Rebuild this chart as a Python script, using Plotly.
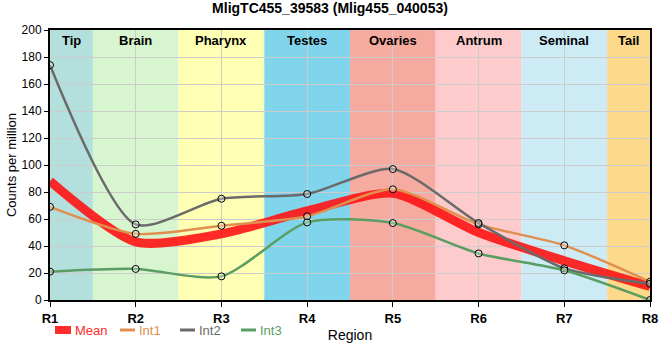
import plotly.graph_objects as go

regions = ["R1", "R2", "R3", "R4", "R5", "R6", "R7", "R8"]
tissues = ["Tip", "Brain", "Pharynx", "Testes", "Ovaries", "Antrum", "Seminal", "Tail"]
tissue_colors = ["#b3e0dc", "#d7f5cf", "#ffffb3", "#80d5ec", "#f5ab9f", "#fdcbcb", "#cdebf5", "#fdd98b"]

mean_vals = [88, 43, 49, 66, 79, 50, 29, 10]
int1_vals = [69, 49, 55, 62, 82, 56, 40.5, 13.5]
int2_vals = [174, 56, 75, 78.5, 97, 57, 23.5, 12]
int3_vals = [21, 23, 17.5, 57.5, 57, 34.5, 22, 0]

series_names = ["Mean", "Int1", "Int2", "Int3"]
series_colors = ["#ff2a2a", "#e08f4f", "#6a6a6a", "#5a9e63"]

xs = list(range(len(regions)))
FONT = "Liberation Sans, Arial, sans-serif"
SMOOTH = 0.7

FW, FH = 660, 360
L, R, T, B = 50, 10, 30, 60
W, H = FW - L - R, FH - T - B

fig = go.Figure()

# tissue bands
bounds = [0] + [i + 0.5 for i in range(len(regions) - 1)] + [len(regions) - 1]
for i, (t, c) in enumerate(zip(tissues, tissue_colors)):
    fig.add_shape(type="rect", xref="x", yref="paper", x0=bounds[i], x1=bounds[i + 1],
                  y0=0, y1=1, fillcolor=c, line_width=0, layer="below")
    fig.add_annotation(x=(bounds[i] + bounds[i + 1]) / 2, y=1, xref="x", yref="paper",
                       text="<b>%s</b>" % t, showarrow=False, yanchor="top", yshift=-1,
                       font=dict(family=FONT, size=13, color="black"))

fig.add_trace(go.Scatter(x=xs, y=mean_vals, name="Mean", mode="lines", showlegend=False,
                         line=dict(color="rgba(255,20,20,0.9)", width=9, shape="spline", smoothing=SMOOTH)))
for name, vals, col in zip(series_names[1:], [int1_vals, int2_vals, int3_vals], series_colors[1:]):
    fig.add_trace(go.Scatter(x=xs, y=vals, name=name, mode="lines+markers", showlegend=False,
                             line=dict(color=col, width=2.5, shape="spline", smoothing=SMOOTH),
                             marker=dict(symbol="circle", size=7, color="rgba(255,255,255,0.3)",
                                         line=dict(color="black", width=1))))

# manual legend (layout decoration; screen pixel -> paper)
def px(x):
    return (x - L) / W
def py(y):
    return (FH - B - y) / H

leg_x = [55, 120, 180, 241]
leg_y = 330
for i, (name, col) in enumerate(zip(series_names, series_colors)):
    x0 = leg_x[i]
    if i == 0:
        fig.add_shape(type="rect", xref="paper", yref="paper", x0=px(x0), x1=px(x0 + 16),
                      y0=py(leg_y + 4), y1=py(leg_y - 4), fillcolor=col, line_width=0)
    else:
        fig.add_shape(type="line", xref="paper", yref="paper", x0=px(x0), x1=px(x0 + 15),
                      y0=py(leg_y), y1=py(leg_y), line=dict(color=col, width=3))
    fig.add_annotation(x=px(x0 + (18 if i == 0 else 17)), y=py(leg_y), xref="paper", yref="paper",
                       text=name, showarrow=False, xanchor="left", yanchor="middle",
                       font=dict(family=FONT, size=13, color=col))

fig.update_layout(
    width=FW, height=FH,
    margin=dict(l=L, r=R, t=T, b=B),
    paper_bgcolor="white", plot_bgcolor="white",
    title=dict(text="<b>MligTC455_39583 (Mlig455_040053)</b>", x=0.5, xanchor="center",
               y=0.99, yanchor="top",
               font=dict(family=FONT, size=14, color="black")),
    font=dict(family=FONT, size=13, color="black"),
    showlegend=False,
)
fig.update_xaxes(range=[0, len(regions) - 1], tickvals=xs, ticktext=["<b>%s</b>" % r for r in regions],
                 showgrid=True, gridcolor="#cccccc", gridwidth=1,
                 showline=True, linecolor="black", linewidth=2, mirror=True,
                 ticks="outside", ticklen=5, tickcolor="black", automargin=False,
                 ticklabeloverflow="allow",
                 title=dict(text="Region", font=dict(family=FONT, size=14), standoff=6),
                 tickfont=dict(family=FONT, size=13), zeroline=False)
fig.update_yaxes(range=[0, 200], dtick=20, showgrid=True, gridcolor="#cccccc", gridwidth=1,
                 showline=True, linecolor="black", linewidth=2, mirror=True,
                 ticks="outside", ticklen=4, tickcolor="black", automargin=False,
                 title=dict(text="Counts per million", font=dict(family=FONT, size=13), standoff=2),
                 tickfont=dict(family=FONT, size=12), zeroline=False)

fig.write_html("out.html", config={"displayModeBar": False},
               post_script="document.body.style.margin='0';")
